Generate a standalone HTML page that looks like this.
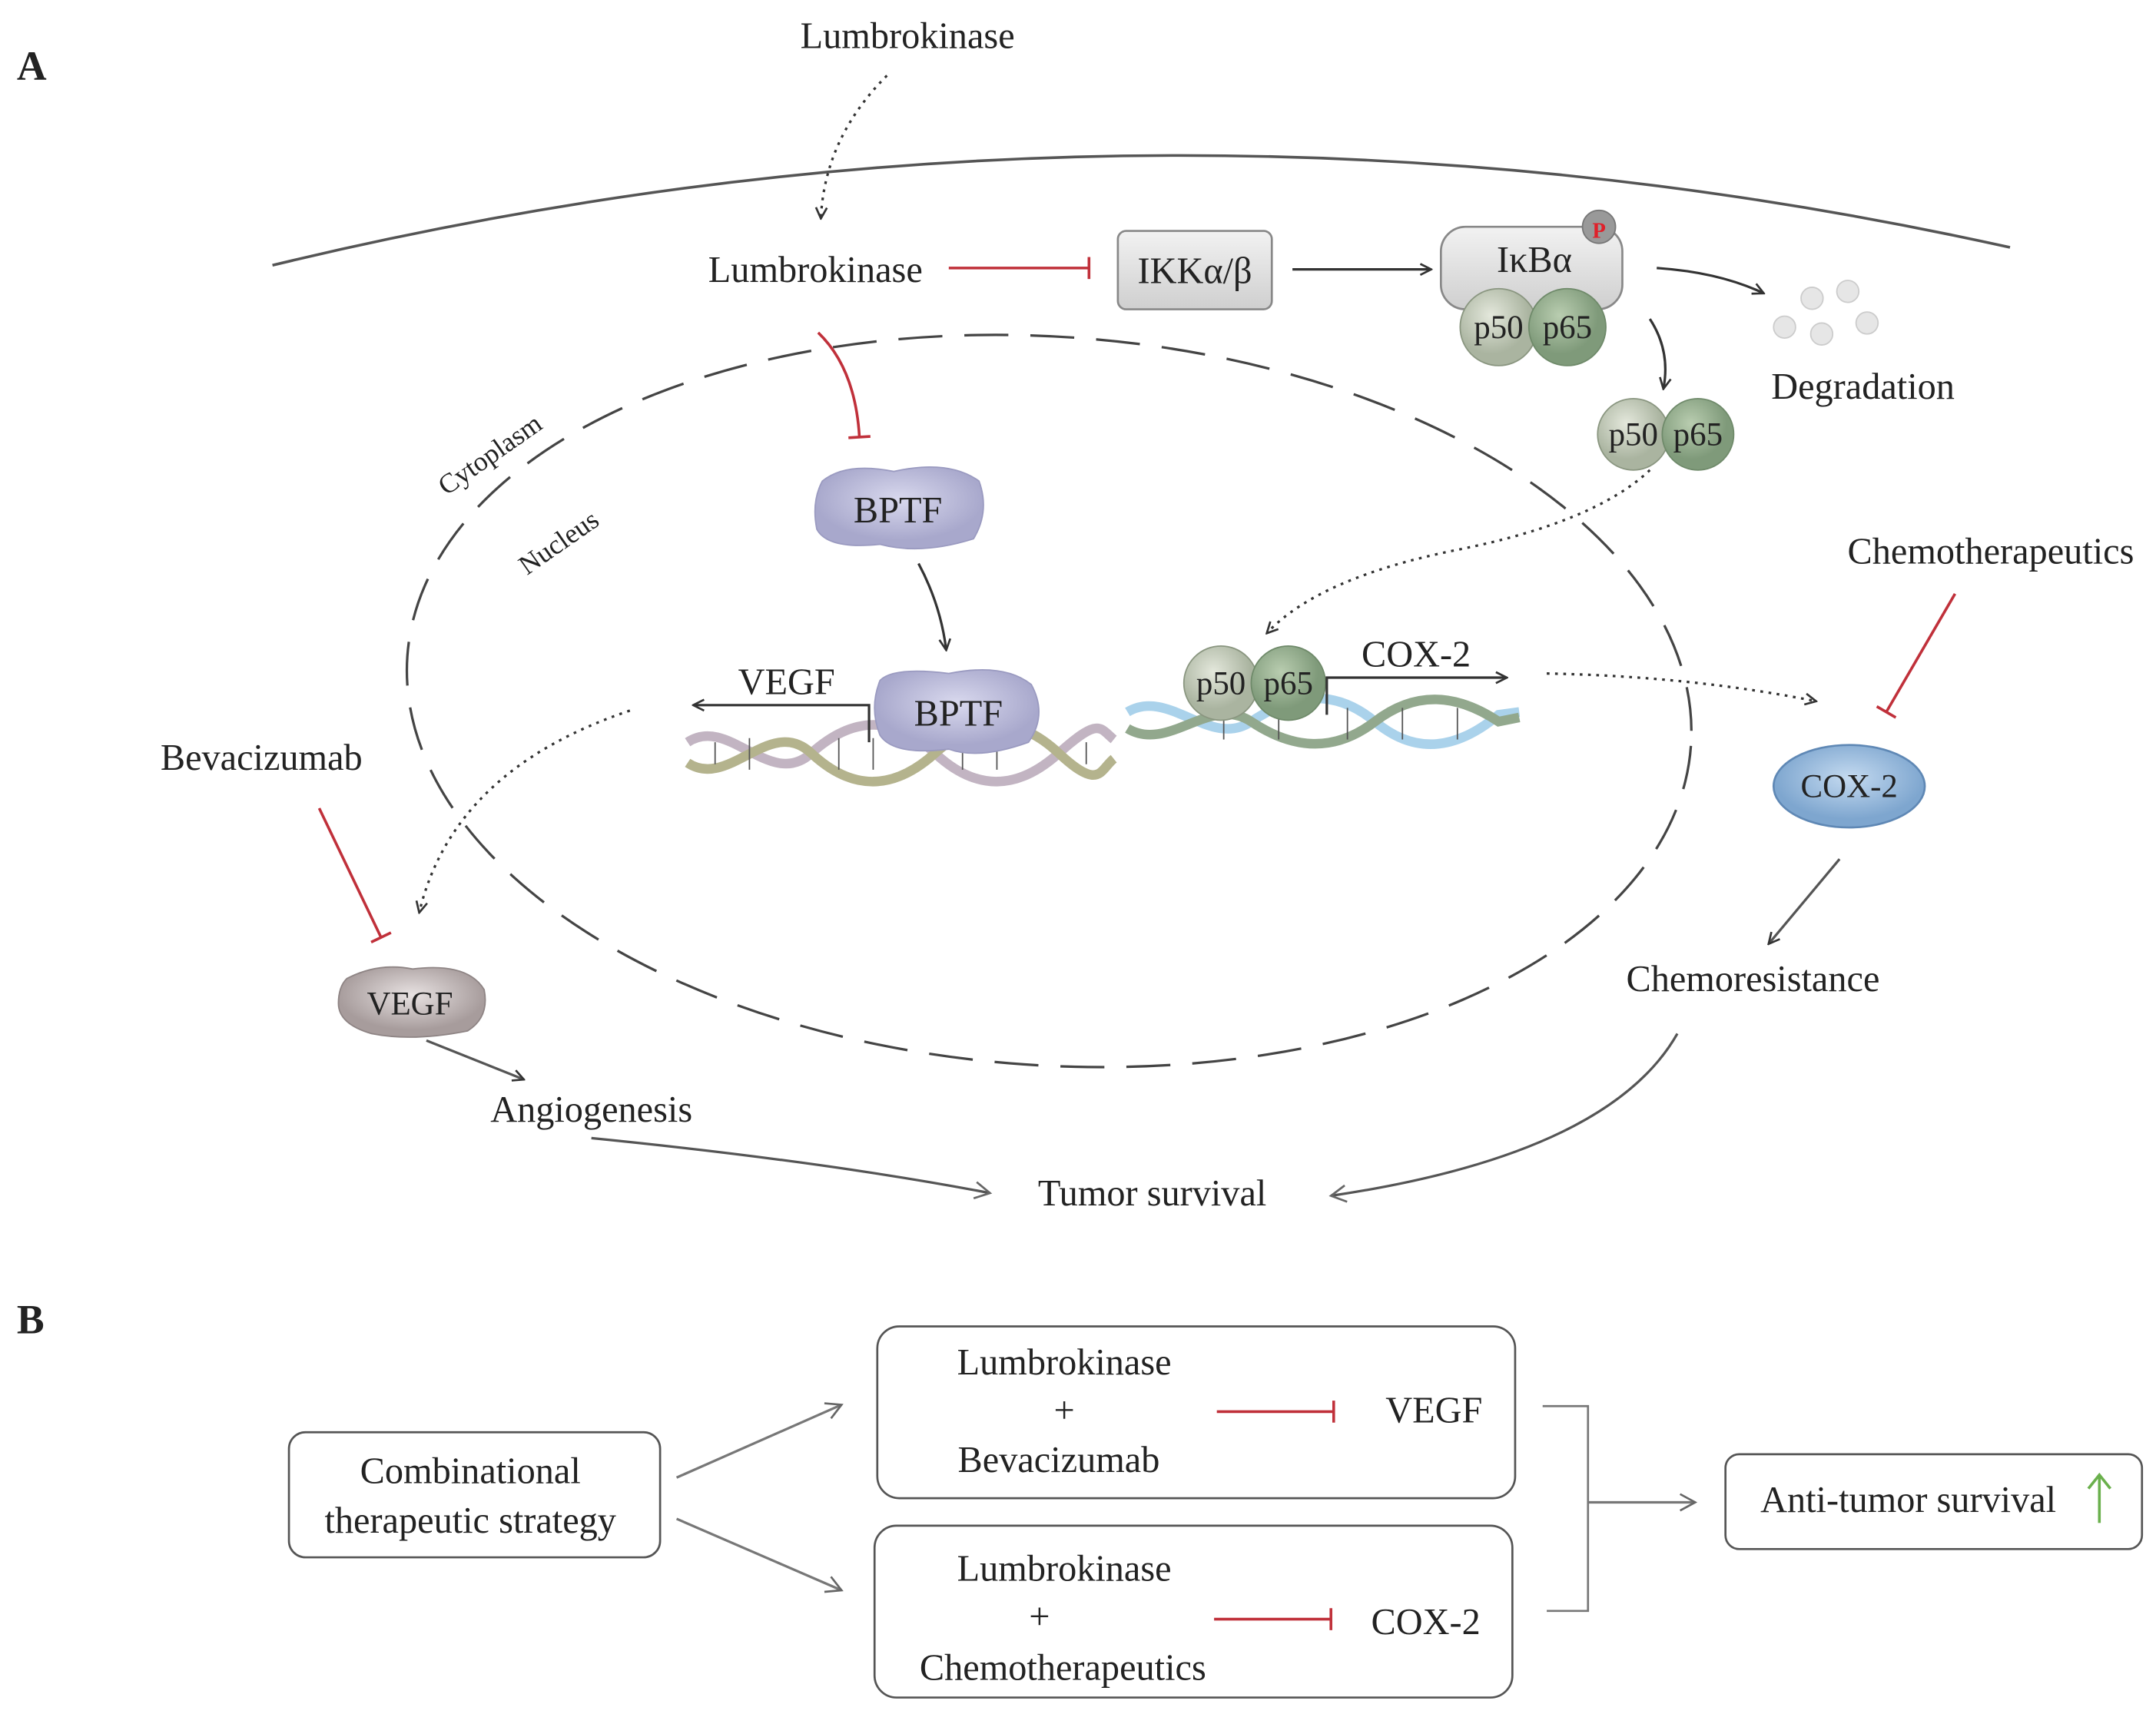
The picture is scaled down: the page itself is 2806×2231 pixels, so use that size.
<!DOCTYPE html>
<html><head><meta charset="utf-8"><style>
html,body{margin:0;padding:0;background:#fff;}
svg{display:block;}
text{font-family:"Liberation Serif",serif;fill:#222;}
</style></head><body>
<svg width="2806" height="2231" viewBox="0 0 1568 1247" xmlns="http://www.w3.org/2000/svg">
<defs>
<marker id="ah" markerWidth="10" markerHeight="10" refX="8" refY="5" orient="auto" markerUnits="userSpaceOnUse"><path d="M1,1 L9,5 L1,9" fill="none" stroke="#333" stroke-width="1.5"/></marker>
<marker id="ahg" markerWidth="14" markerHeight="14" refX="12" refY="7" orient="auto" markerUnits="userSpaceOnUse"><path d="M1,1 L12,7 L1,13" fill="none" stroke="#666" stroke-width="1.5"/></marker>
<marker id="bar" markerWidth="4" markerHeight="20" refX="2" refY="10" orient="auto" markerUnits="userSpaceOnUse"><line x1="2" y1="2" x2="2" y2="18" stroke="#c0303a" stroke-width="2"/></marker>
<linearGradient id="gbox" x1="0" y1="0" x2="0" y2="1"><stop offset="0" stop-color="#f2f2f2"/><stop offset="1" stop-color="#cfcfcf"/></linearGradient>
<radialGradient id="gp50" cx="0.4" cy="0.35"><stop offset="0" stop-color="#e4e8dc"/><stop offset="1" stop-color="#aab4a0"/></radialGradient>
<radialGradient id="gp65" cx="0.4" cy="0.35"><stop offset="0" stop-color="#b9cdb0"/><stop offset="1" stop-color="#7f9a7a"/></radialGradient>
<radialGradient id="gbp" cx="0.5" cy="0.4"><stop offset="0" stop-color="#d9d9ee"/><stop offset="1" stop-color="#a8a8cc"/></radialGradient>
<radialGradient id="gcox" cx="0.5" cy="0.4"><stop offset="0" stop-color="#c4daf0"/><stop offset="1" stop-color="#7ea6cf"/></radialGradient>
<radialGradient id="gveg" cx="0.5" cy="0.4"><stop offset="0" stop-color="#e8e2e2"/><stop offset="1" stop-color="#a79c9c"/></radialGradient>
</defs>

<text x="12" y="58" font-size="30" font-weight="bold">A</text>
<path d="M198,193 Q830,40 1462,180" fill="none" stroke="#555" stroke-width="2"/>

<text x="660" y="35" font-size="27" text-anchor="middle">Lumbrokinase</text>
<path d="M645,55 Q600,100 597,158" fill="none" stroke="#333" stroke-width="1.8" stroke-dasharray="2,4" marker-end="url(#ah)"/>
<text x="593" y="205" font-size="27" text-anchor="middle">Lumbrokinase</text>
<line x1="690" y1="195" x2="792" y2="195" stroke="#c0303a" stroke-width="2" marker-end="url(#bar)"/>

<rect x="813" y="168" width="112" height="57" rx="6" fill="url(#gbox)" stroke="#888" stroke-width="1.5"/>
<text x="869" y="206" font-size="27" text-anchor="middle">IKKα/β</text>
<line x1="940" y1="196" x2="1040" y2="196" stroke="#333" stroke-width="1.8" marker-end="url(#ah)"/>

<rect x="1048" y="165" width="132" height="60" rx="18" fill="url(#gbox)" stroke="#888" stroke-width="1.5"/>
<text x="1116" y="198" font-size="27" text-anchor="middle">IκBα</text>
<circle cx="1163" cy="165" r="12" fill="#999" stroke="#777"/>
<text x="1163" y="173" font-size="16" font-weight="bold" text-anchor="middle" style="fill:#e0202a">P</text>
<circle cx="1090" cy="238" r="28" fill="url(#gp50)" stroke="#8a9680"/>
<circle cx="1140" cy="238" r="28" fill="url(#gp65)" stroke="#6f8a6a"/>
<text x="1090" y="246" font-size="24" text-anchor="middle">p50</text>
<text x="1140" y="246" font-size="24" text-anchor="middle">p65</text>

<path d="M1205,195 Q1250,198 1282,213" fill="none" stroke="#333" stroke-width="1.8" marker-end="url(#ah)"/>
<g fill="#e6e6e6" stroke="#ccc"><circle cx="1318" cy="217" r="8"/><circle cx="1344" cy="212" r="8"/><circle cx="1298" cy="238" r="8"/><circle cx="1325" cy="243" r="8"/><circle cx="1358" cy="235" r="8"/></g>
<text x="1355" y="290" font-size="27" text-anchor="middle">Degradation</text>
<path d="M1200,232 Q1215,255 1210,282" fill="none" stroke="#333" stroke-width="1.8" marker-end="url(#ah)"/>
<circle cx="1188" cy="316" r="26" fill="url(#gp50)" stroke="#8a9680"/>
<circle cx="1235" cy="316" r="26" fill="url(#gp65)" stroke="#6f8a6a"/>
<text x="1188" y="324" font-size="24" text-anchor="middle">p50</text>
<text x="1235" y="324" font-size="24" text-anchor="middle">p65</text>

<ellipse cx="763" cy="510" rx="468" ry="265" transform="rotate(4 763 510)" fill="none" stroke="#444" stroke-width="1.8" stroke-dasharray="32,16"/>
<text x="360" y="336" font-size="20" text-anchor="middle" transform="rotate(-35 360 336)">Cytoplasm</text>
<text x="410" y="400" font-size="20" text-anchor="middle" transform="rotate(-35 410 400)">Nucleus</text>

<path d="M595,242 Q622,268 625,318" fill="none" stroke="#c0303a" stroke-width="2" marker-end="url(#bar)"/>
<path d="M598,350 Q615,336 650,343 Q690,334 712,350 Q720,372 708,392 Q670,404 640,396 Q602,400 594,385 Q590,365 598,350Z" fill="url(#gbp)" stroke="#9a9ac0"/>
<text x="653" y="380" font-size="27" text-anchor="middle">BPTF</text>
<path d="M668,410 Q684,440 688,472" fill="none" stroke="#333" stroke-width="1.8" marker-end="url(#ah)"/>

<g fill="none" stroke-width="7" opacity="0.85">
<path d="M500,540 C530,520 560,575 590,548 S650,520 680,548 S740,575 770,548 S800,530 810,538" stroke="#b8a8b8"/>
<path d="M500,555 C530,575 560,520 590,548 S650,575 680,548 S740,520 770,548 S800,560 810,552" stroke="#a8a67a"/>
</g>
<g stroke="#555" stroke-width="1"><line x1="520" y1="540" x2="520" y2="556"/><line x1="545" y1="537" x2="545" y2="560"/><line x1="610" y1="537" x2="610" y2="560"/><line x1="635" y1="537" x2="635" y2="560"/><line x1="700" y1="537" x2="700" y2="560"/><line x1="725" y1="537" x2="725" y2="560"/><line x1="790" y1="540" x2="790" y2="556"/></g>
<path d="M640,495 Q650,485 690,490 Q730,482 750,498 Q762,520 748,540 Q712,553 690,545 Q650,550 640,535 Q632,515 640,495Z" fill="url(#gbp)" stroke="#9a9ac0"/>
<text x="697" y="528" font-size="27" text-anchor="middle">BPTF</text>
<text x="572" y="505" font-size="27" text-anchor="middle">VEGF</text>
<polyline points="632,540 632,513 505,513" fill="none" stroke="#333" stroke-width="1.8" marker-end="url(#ah)"/>

<g fill="none" stroke-width="7" opacity="0.85">
<path d="M820,518 C850,500 880,545 910,525 S970,500 1000,525 S1060,545 1090,520 L1105,518" stroke="#9ccbe8"/>
<path d="M820,530 C850,548 880,505 910,525 S970,548 1000,525 S1060,505 1090,525 L1105,522" stroke="#7f9a7a"/>
</g>
<g stroke="#555" stroke-width="1"><line x1="890" y1="515" x2="890" y2="538"/><line x1="930" y1="515" x2="930" y2="538"/><line x1="980" y1="515" x2="980" y2="538"/><line x1="1020" y1="515" x2="1020" y2="538"/><line x1="1060" y1="515" x2="1060" y2="538"/></g>
<circle cx="888" cy="497" r="27" fill="url(#gp50)" stroke="#8a9680"/>
<circle cx="937" cy="497" r="27" fill="url(#gp65)" stroke="#6f8a6a"/>
<text x="888" y="505" font-size="24" text-anchor="middle">p50</text>
<text x="937" y="505" font-size="24" text-anchor="middle">p65</text>
<text x="1030" y="485" font-size="27" text-anchor="middle">COX-2</text>
<polyline points="965,520 965,493 1095,493" fill="none" stroke="#333" stroke-width="1.8" marker-end="url(#ah)"/>

<path d="M1200,342 Q1160,380 1060,400 Q960,420 922,460" fill="none" stroke="#333" stroke-width="1.8" stroke-dasharray="2,4" marker-end="url(#ah)"/>
<path d="M1125,490 Q1230,492 1320,510" fill="none" stroke="#333" stroke-width="1.8" stroke-dasharray="2,4" marker-end="url(#ah)"/>

<text x="1448" y="410" font-size="27" text-anchor="middle">Chemotherapeutics</text>
<line x1="1422" y1="432" x2="1372" y2="518" stroke="#c0303a" stroke-width="2" marker-end="url(#bar)"/>
<ellipse cx="1345" cy="572" rx="55" ry="30" fill="url(#gcox)" stroke="#5f88b5" stroke-width="1.5"/>
<text x="1345" y="580" font-size="24" text-anchor="middle">COX-2</text>
<line x1="1338" y1="625" x2="1287" y2="686" stroke="#555" stroke-width="1.8" marker-end="url(#ah)"/>
<text x="1275" y="721" font-size="27" text-anchor="middle">Chemoresistance</text>

<text x="190" y="560" font-size="27" text-anchor="middle">Bevacizumab</text>
<line x1="232" y1="588" x2="277" y2="682" stroke="#c0303a" stroke-width="2" marker-end="url(#bar)"/>
<path d="M458,517 Q330,560 305,663" fill="none" stroke="#333" stroke-width="1.8" stroke-dasharray="2,4" marker-end="url(#ah)"/>
<path d="M252,712 Q275,700 300,705 Q340,700 352,720 Q356,740 340,750 Q300,758 270,752 Q246,745 246,730 Q246,718 252,712Z" fill="url(#gveg)" stroke="#8e8484"/>
<text x="298" y="738" font-size="24" text-anchor="middle">VEGF</text>
<line x1="310" y1="757" x2="380" y2="785" stroke="#555" stroke-width="1.8" marker-end="url(#ah)"/>
<text x="430" y="816" font-size="27" text-anchor="middle">Angiogenesis</text>
<path d="M430,828 Q600,845 720,868" fill="none" stroke="#555" stroke-width="1.8" marker-end="url(#ahg)"/>
<text x="838" y="877" font-size="27" text-anchor="middle">Tumor survival</text>
<path d="M1220,752 Q1170,840 968,870" fill="none" stroke="#555" stroke-width="1.8" marker-end="url(#ahg)"/>

<text x="12" y="970" font-size="30" font-weight="bold">B</text>
<g fill="none" stroke="#555" stroke-width="1.5">
<rect x="210" y="1042" width="270" height="91" rx="12"/>
<rect x="638" y="965" width="464" height="125" rx="16"/>
<rect x="636" y="1110" width="464" height="125" rx="16"/>
<rect x="1255" y="1058" width="303" height="69" rx="10"/>
</g>
<text x="342" y="1079" font-size="27" text-anchor="middle">Combinational</text>
<text x="342" y="1115" font-size="27" text-anchor="middle">therapeutic strategy</text>
<line x1="492" y1="1075" x2="612" y2="1022" stroke="#777" stroke-width="1.8" marker-end="url(#ahg)"/>
<line x1="492" y1="1105" x2="612" y2="1157" stroke="#777" stroke-width="1.8" marker-end="url(#ahg)"/>
<text x="774" y="1000" font-size="27" text-anchor="middle">Lumbrokinase</text>
<text x="774" y="1035" font-size="27" text-anchor="middle">+</text>
<text x="770" y="1071" font-size="27" text-anchor="middle">Bevacizumab</text>
<line x1="885" y1="1027" x2="970" y2="1027" stroke="#c0303a" stroke-width="2" marker-end="url(#bar)"/>
<text x="1043" y="1035" font-size="27" text-anchor="middle">VEGF</text>
<text x="774" y="1150" font-size="27" text-anchor="middle">Lumbrokinase</text>
<text x="756" y="1185" font-size="27" text-anchor="middle">+</text>
<text x="773" y="1222" font-size="27" text-anchor="middle">Chemotherapeutics</text>
<line x1="883" y1="1178" x2="968" y2="1178" stroke="#c0303a" stroke-width="2" marker-end="url(#bar)"/>
<text x="1037" y="1189" font-size="27" text-anchor="middle">COX-2</text>
<polyline points="1122,1023 1155,1023 1155,1172 1125,1172" fill="none" stroke="#777" stroke-width="1.5"/>
<line x1="1155" y1="1093" x2="1233" y2="1093" stroke="#777" stroke-width="1.8" marker-end="url(#ahg)"/>
<text x="1388" y="1100" font-size="27" text-anchor="middle">Anti-tumor survival</text>
<line x1="1527" y1="1108" x2="1527" y2="1074" stroke="#6ab04c" stroke-width="2"/>
<path d="M1519,1083 L1527,1073 L1535,1083" fill="none" stroke="#6ab04c" stroke-width="2"/>
</svg>
</body></html>
